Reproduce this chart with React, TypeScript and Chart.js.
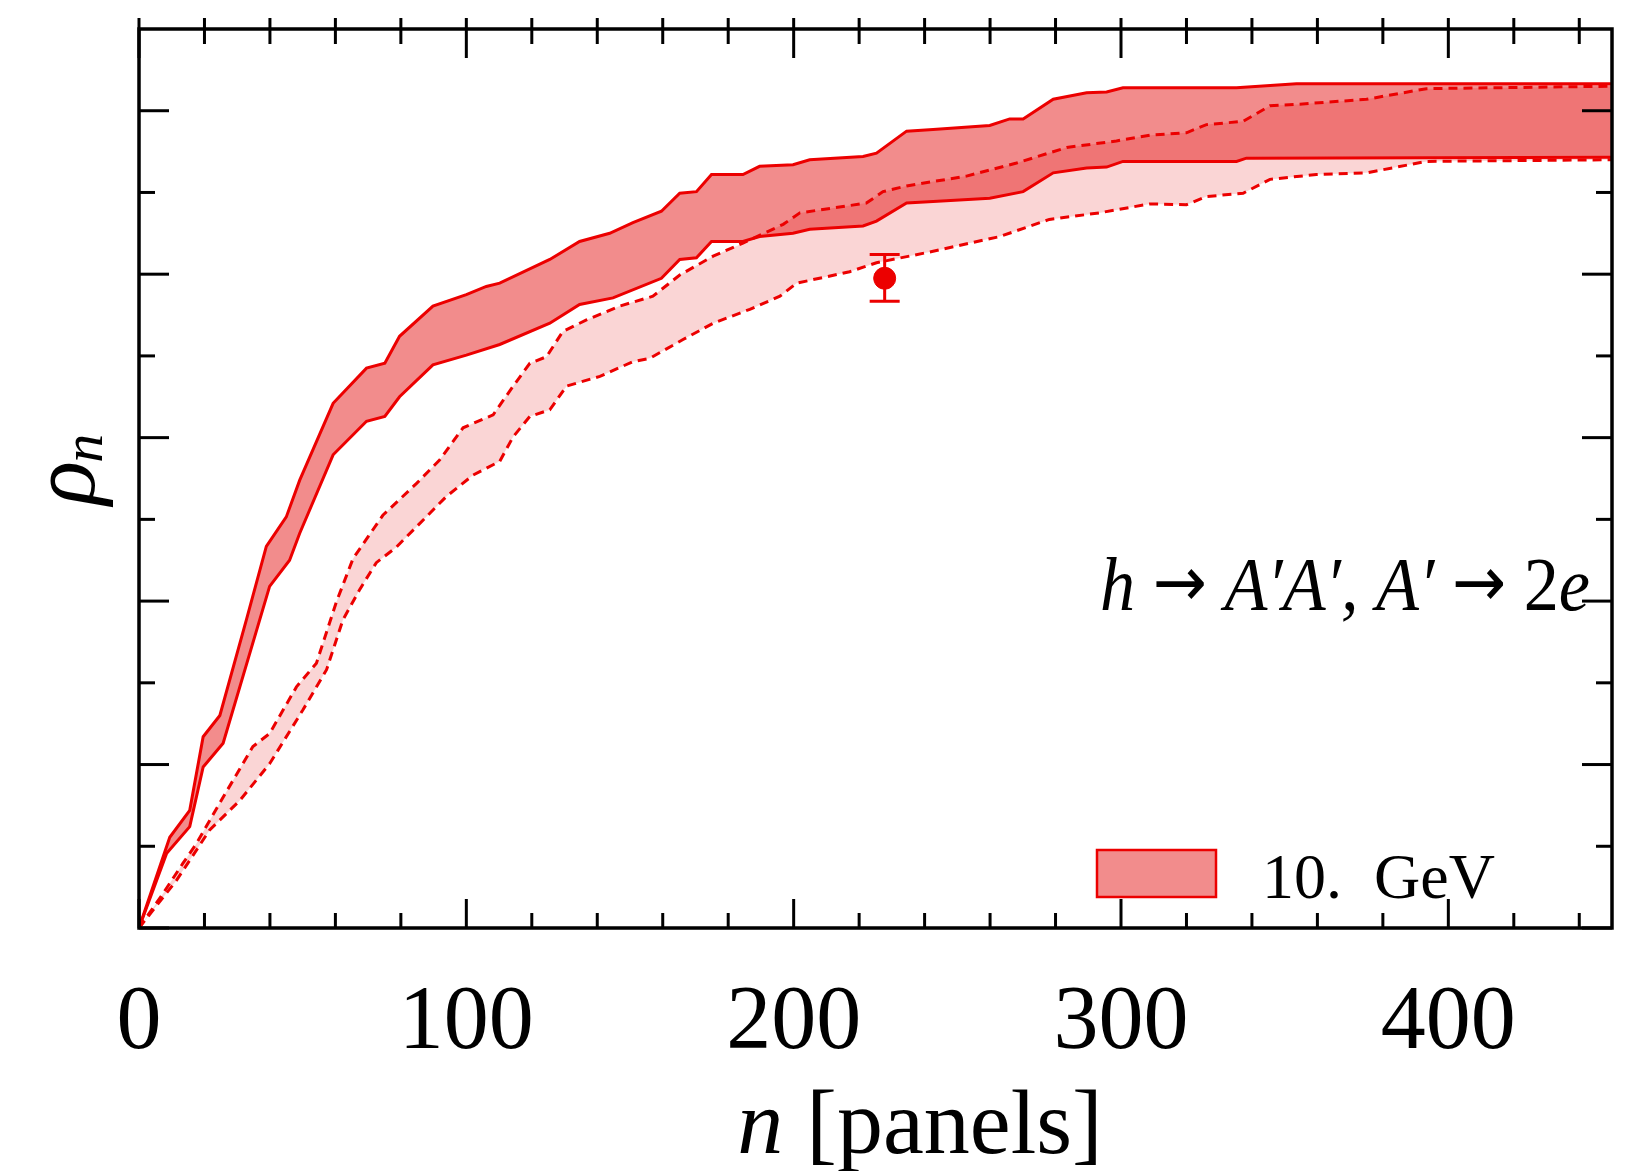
import React, { useEffect, useRef } from "react";
import { Chart, registerables } from "chart.js";

Chart.register(...registerables);

// ---------- data ----------
const SOLID_HI_X = [0, 9.4, 15.5, 19.6, 24.7, 32.8, 38.9, 45, 49.1, 59.3, 69.5, 75.1, 79.6, 89.8, 100, 106.1, 110.2, 125.5, 134.6, 143.8, 150.9, 159.6, 165.2, 170.3, 174.9, 184.5, 189.6, 199.8, 204.9, 221.2, 225.3, 234.5, 242.6, 259.9, 266, 270.1, 279.3, 289.5, 295.6, 300.6, 335.3, 353.6, 450];
const SOLID_HI_Y = [0, 0.111, 0.144, 0.234, 0.26, 0.377, 0.467, 0.503, 0.548, 0.642, 0.685, 0.691, 0.724, 0.761, 0.775, 0.785, 0.789, 0.818, 0.84, 0.85, 0.863, 0.877, 0.899, 0.901, 0.922, 0.922, 0.932, 0.934, 0.94, 0.944, 0.948, 0.975, 0.977, 0.982, 0.99, 0.99, 1.014, 1.022, 1.023, 1.028, 1.028, 1.033, 1.033];

const SOLID_LO_X = [0, 8.4, 15.5, 19.6, 25.7, 39.9, 46, 49.1, 59.3, 69.5, 75.1, 79.6, 89.8, 100, 110.2, 125.5, 134.6, 144.8, 159.6, 165.2, 170.3, 174.9, 184.5, 189.6, 199.8, 204.9, 221.2, 225.3, 234.5, 242.6, 259.9, 270.1, 279.3, 289.5, 295.6, 300.6, 335.3, 338.3, 450];
const SOLID_LO_Y = [0, 0.091, 0.124, 0.197, 0.226, 0.418, 0.45, 0.483, 0.579, 0.62, 0.626, 0.65, 0.689, 0.701, 0.714, 0.74, 0.763, 0.771, 0.795, 0.818, 0.82, 0.84, 0.84, 0.846, 0.85, 0.855, 0.859, 0.865, 0.887, 0.889, 0.893, 0.901, 0.924, 0.93, 0.931, 0.938, 0.938, 0.942, 0.943];

const DASH_HI_X = [0, 7.3, 13.4, 17.5, 25.7, 34.8, 39.9, 48.1, 54.2, 60.3, 65.4, 74.5, 84.8, 91.9, 99, 108.2, 114.3, 119.4, 124.5, 129.5, 136.7, 146.9, 157, 165.2, 175.4, 184.5, 196.8, 201.9, 222.2, 227.3, 234.5, 252.8, 268.1, 283.4, 298.6, 308.8, 320, 326.1, 337.3, 345.5, 354.6, 375, 393.3, 450];
const DASH_HI_Y = [0, 0.042, 0.079, 0.103, 0.16, 0.222, 0.238, 0.295, 0.324, 0.399, 0.452, 0.505, 0.544, 0.573, 0.612, 0.628, 0.663, 0.691, 0.699, 0.73, 0.744, 0.761, 0.773, 0.799, 0.822, 0.838, 0.861, 0.875, 0.887, 0.901, 0.908, 0.92, 0.936, 0.955, 0.963, 0.97, 0.973, 0.983, 0.987, 1.006, 1.008, 1.014, 1.027, 1.03];

const DASH_LO_X = [0, 11.4, 21.6, 30.8, 39.9, 50.1, 57.3, 62.3, 67.4, 72.5, 78.6, 84.8, 93.9, 102, 110.2, 114.3, 119.4, 125.5, 130.6, 140.8, 150.9, 156, 166.2, 175.4, 186.6, 195.8, 200.9, 217.1, 225.3, 242.6, 262.9, 278.1, 293.3, 308.8, 320, 326.1, 337.3, 345.5, 359.7, 375, 393.3, 450];
const DASH_LO_Y = [0, 0.058, 0.12, 0.156, 0.201, 0.267, 0.316, 0.377, 0.414, 0.447, 0.466, 0.491, 0.528, 0.554, 0.571, 0.601, 0.626, 0.634, 0.663, 0.675, 0.693, 0.697, 0.72, 0.74, 0.757, 0.773, 0.789, 0.803, 0.814, 0.828, 0.846, 0.867, 0.875, 0.886, 0.885, 0.895, 0.899, 0.916, 0.922, 0.924, 0.938, 0.94];

const POINT_X = [227.8];
const POINT_Y = [0.795];
const POINT_LO = [0.767];
const POINT_HI = [0.824];

const X_TICK_LABELS = [0, 100, 200, 300, 400];
const X_MINOR_TICKS = [0, 20, 40, 60, 80, 100, 120, 140, 160, 180, 200, 220, 240, 260, 280, 300, 320, 340, 360, 380, 400, 420, 440];
const Y_TICKS = [0, 0.1, 0.2, 0.3, 0.4, 0.5, 0.6, 0.7, 0.8, 0.9, 1.0];
const Y_MAJOR_TICKS = [0, 0.2, 0.4, 0.6, 0.8, 1.0];

const LEGEND_LABEL = "10.  GeV";
const X_TITLE_VAR = "n";
const X_TITLE_UNIT = "[panels]";
const Y_TITLE_VAR = "ρ";
const Y_TITLE_SUB = "n";
// k: "i" italic serif, "r" roman serif, "a" arrow glyph
const ANNOTATION = [
  { t: "h", k: "i" },
  { t: " ", k: "r" },
  { t: "→", k: "a" },
  { t: " ", k: "r" },
  { t: "A′A′, A′", k: "i" },
  { t: " ", k: "r" },
  { t: "→", k: "a" },
  { t: " 2", k: "r" },
  { t: "e", k: "i" },
];

// ---------- styles ----------
const RED = "rgb(236,0,0)";
const SOLID_FILL = "rgba(226,0,0,0.45)";
const DASH_FILL = "rgba(222,0,0,0.165)";
const SERIF = "'Liberation Serif', 'DejaVu Serif', serif";

const pts = (xs: number[], ys: number[]) => xs.map((x, i) => ({ x, y: ys[i] }));

const annFont = (k: string) =>
  k === "i" ? `italic 76px ${SERIF}` : k === "a" ? `70px 'DejaVu Sans', sans-serif` : `76px ${SERIF}`;

const decorPlugin = {
  id: "decor",
  afterDatasetsDraw(chart: any) {
    const { ctx, scales } = chart;
    const x = scales.x;
    const y = scales.y;
    ctx.save();
    ctx.strokeStyle = RED;
    ctx.lineWidth = 3;
    POINT_X.forEach((v, i) => {
      const px = x.getPixelForValue(v);
      const lo = y.getPixelForValue(POINT_LO[i]);
      const hi = y.getPixelForValue(POINT_HI[i]);
      ctx.beginPath();
      ctx.moveTo(px, lo);
      ctx.lineTo(px, hi);
      ctx.moveTo(px - 15, lo);
      ctx.lineTo(px + 15, lo);
      ctx.moveTo(px - 15, hi);
      ctx.lineTo(px + 15, hi);
      ctx.stroke();
    });
    ctx.restore();
  },
  afterDraw(chart: any) {
    const { ctx, chartArea, scales } = chart;
    const { left, right, top, bottom } = chartArea;
    const x = scales.x;
    const y = scales.y;
    ctx.save();
    ctx.strokeStyle = "#000";
    ctx.lineCap = "butt";
    ctx.lineWidth = 3;
    const seg = (a: number, b: number, c: number, d: number) => {
      ctx.beginPath();
      ctx.moveTo(a, b);
      ctx.lineTo(c, d);
      ctx.stroke();
    };
    X_MINOR_TICKS.forEach((v) => {
      const px = x.getPixelForValue(v);
      const len = X_TICK_LABELS.includes(v) ? 29 : 15;
      seg(px, bottom, px, bottom - len);
      seg(px, top - 11, px, top + len);
    });
    Y_TICKS.forEach((v) => {
      const py = y.getPixelForValue(v);
      const len = Y_MAJOR_TICKS.includes(v) ? 30 : 16;
      seg(left, py, left + len, py);
      seg(right, py, right - len, py);
    });
    ctx.lineWidth = 3.5;
    ctx.strokeRect(left, top, right - left, bottom - top);

    ctx.fillStyle = "#000";
    ctx.textBaseline = "alphabetic";
    // x title
    ctx.font = `italic 92px ${SERIF}`;
    const w1 = ctx.measureText(X_TITLE_VAR + " ").width;
    ctx.font = `92px ${SERIF}`;
    const w2 = ctx.measureText(X_TITLE_UNIT).width;
    const cx = 920;
    const sx = cx - (w1 + w2) / 2;
    ctx.font = `italic 92px ${SERIF}`;
    ctx.fillText(X_TITLE_VAR, sx, 1153);
    ctx.font = `92px ${SERIF}`;
    ctx.fillText(X_TITLE_UNIT, sx + w1, 1153);

    // y title
    ctx.save();
    ctx.translate(94, 505);
    ctx.rotate(-Math.PI / 2);
    ctx.font = `italic 92px ${SERIF}`;
    ctx.fillText(Y_TITLE_VAR, 0, 0);
    const rw = ctx.measureText(Y_TITLE_VAR).width;
    ctx.font = `italic 58px ${SERIF}`;
    ctx.fillText(Y_TITLE_SUB, rw - 2, 8);
    ctx.restore();

    // annotation (fit to the reference width)
    ctx.save();
    let total = 0;
    ANNOTATION.forEach((s) => {
      ctx.font = annFont(s.k);
      total += ctx.measureText(s.t).width;
    });
    ctx.translate(1100, 610);
    ctx.scale(Math.min(1.1, 490 / total), 1);
    let ax = 0;
    ANNOTATION.forEach((s) => {
      ctx.font = annFont(s.k);
      ctx.fillText(s.t, ax, s.k === "a" ? -4 : 0);
      ax += ctx.measureText(s.t).width;
    });
    ctx.restore();

    // legend
    ctx.fillStyle = "#fff";
    ctx.fillRect(1097, 850, 119, 47);
    ctx.fillStyle = SOLID_FILL;
    ctx.fillRect(1097, 850, 119, 47);
    ctx.strokeStyle = RED;
    ctx.lineWidth = 2.5;
    ctx.strokeRect(1097, 850, 119, 47);
    ctx.fillStyle = "#000";
    ctx.font = `64px ${SERIF}`;
    ctx.fillText(LEGEND_LABEL, 1262, 898);
    ctx.restore();
  },
};

export default function App() {
  const ref = useRef<HTMLCanvasElement | null>(null);
  useEffect(() => {
    document.body.style.margin = "0";
    const canvas = ref.current;
    if (!canvas) return;
    const lineBase = {
      pointRadius: 0,
      borderColor: RED,
      borderWidth: 3,
      tension: 0,
      showLine: true,
    };
    const chart = new Chart(canvas, {
      type: "line",
      data: {
        datasets: [
          {
            label: "point",
            data: pts(POINT_X, POINT_Y),
            showLine: false,
            pointRadius: 11,
            pointBackgroundColor: RED,
            pointBorderColor: RED,
            fill: false,
          },
          { ...lineBase, label: "solid lower", data: pts(SOLID_LO_X, SOLID_LO_Y), fill: false },
          {
            ...lineBase,
            label: LEGEND_LABEL,
            data: pts(SOLID_HI_X, SOLID_HI_Y),
            fill: 1,
            backgroundColor: SOLID_FILL,
          },
          { ...lineBase, label: "dashed lower", data: pts(DASH_LO_X, DASH_LO_Y), borderDash: [9, 6], fill: false },
          {
            ...lineBase,
            label: "dashed upper",
            data: pts(DASH_HI_X, DASH_HI_Y),
            borderDash: [9, 6],
            fill: 3,
            backgroundColor: DASH_FILL,
          },
        ],
      },
      options: {
        responsive: false,
        animation: false,
        layout: { padding: { left: 139, right: 31, top: 29, bottom: 51 } },
        scales: {
          x: {
            type: "linear",
            min: 0,
            max: 450,
            grid: { display: false, drawTicks: false },
            border: { display: false },
            afterBuildTicks: (s: any) => {
              s.ticks = X_TICK_LABELS.map((v) => ({ value: v }));
            },
            ticks: {
              font: { family: SERIF, size: 90 },
              color: "#000",
              padding: 42,
              maxRotation: 0,
              autoSkip: false,
            },
          },
          y: { type: "linear", min: 0, max: 1.1, display: false },
        },
        plugins: {
          legend: { display: false },
          tooltip: { enabled: false },
          filler: { drawTime: "beforeDatasetsDraw" },
        },
      } as any,
      plugins: [decorPlugin],
    });
    return () => chart.destroy();
  }, []);
  return (
    <canvas
      ref={ref}
      width={1643}
      height={1171}
      style={{ display: "block", width: 1643, height: 1171 }}
    />
  );
}
